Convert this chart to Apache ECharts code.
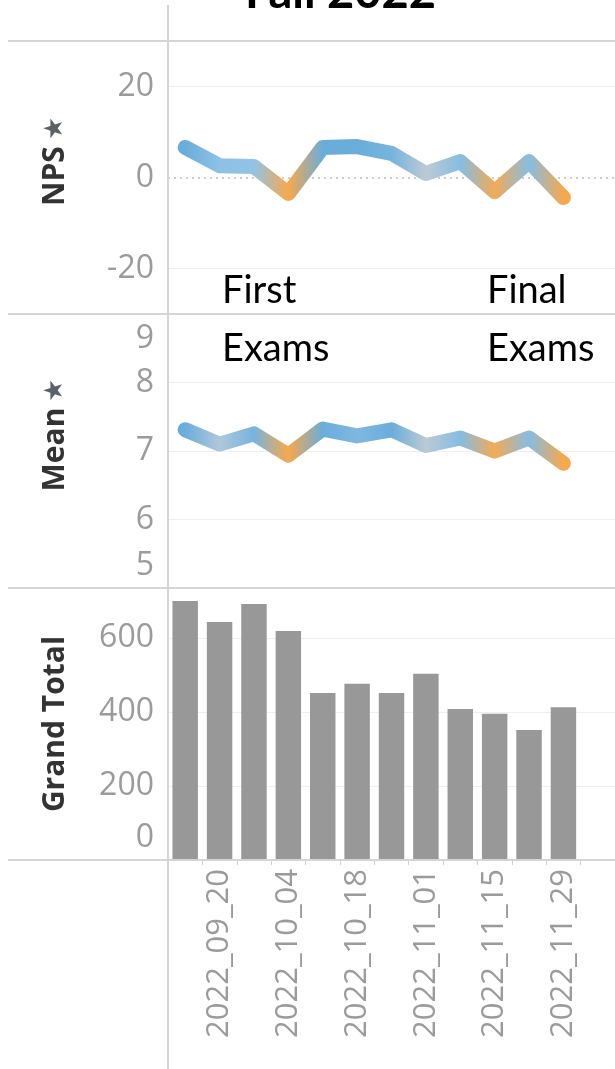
<!DOCTYPE html>
<html>
<head>
<meta charset="utf-8">
<script src="https://cdn.jsdelivr.net/npm/echarts@6/dist/echarts.min.js"></script>
<style>
html, body { margin: 0; padding: 0; background: #fff; }
#main { width: 615px; height: 1069px; }
</style>
</head>
<body>
<div id="main"></div>
<script>
// weekly survey data, Fall 2022
var weeks = ['2022_09_13', '2022_09_20', '2022_09_27', '2022_10_04', '2022_10_11', '2022_10_18',
             '2022_10_25', '2022_11_01', '2022_11_08', '2022_11_15', '2022_11_22', '2022_11_29'];
var npsValues = [6.6, 2.6, 2.4, -3.5, 6.6, 6.8, 5.3, 0.9, 3.5, -3.1, 3.5, -4.4];
var meanValues = [7.31, 7.10, 7.25, 6.94, 7.32, 7.22, 7.31, 7.08, 7.19, 7.00, 7.19, 6.82];
var totalValues = [700, 643, 692, 619, 451, 476, 451, 503, 408, 395, 351, 413];

var npsTicks = [-20, 0, 20];
var meanTicks = [5, 6, 7, 8, 9];
var totalTicks = [0, 200, 400, 600];

(function () {
    var myChart = echarts.init(document.getElementById('main'));

    var labelColor = '#9b9b9b';
    var gridColor = '#efefef';
    var borderColor = '#d5d5d5';
    var none = 'rgba(0,0,0,0)';
    var font = 'Open Sans';
    var plotWidth = 458;
    var lineWidth = 15;

    // orange (low) -> grey -> blue (high), like tableau's diverging palette
    var npsScale = [[-3.5, '#f8a84c'], [-1.2, '#dab68e'], [0.9, '#bccad4'], [2.5, '#8fc2e6'], [6.6, '#6aaddb']];
    var meanScale = [[6.96, '#f8a84c'], [7.01, '#f3ab58'], [7.08, '#bccad4'], [7.15, '#8fc2e6'], [7.3, '#6aaddb']];

    function hex(c) { return [parseInt(c.substr(1, 2), 16), parseInt(c.substr(3, 2), 16), parseInt(c.substr(5, 2), 16)]; }
    function colorAt(v, scale) {
        if (v <= scale[0][0]) return scale[0][1];
        for (var i = 1; i < scale.length; i++) {
            if (v <= scale[i][0]) {
                var t = (v - scale[i - 1][0]) / (scale[i][0] - scale[i - 1][0]);
                var a = hex(scale[i - 1][1]), b = hex(scale[i][1]);
                return 'rgb(' + a.map(function (x, k) { return Math.round(x + (b[k] - x) * t); }).join(',') + ')';
            }
        }
        return scale[scale.length - 1][1];
    }
    // gradient along the line, one stop per point (bounding box includes the stroke width)
    function lineGradient(values, scale) {
        var step = plotWidth / (weeks.length + 1);
        var total = lineWidth + (values.length - 1) * step;
        var stops = values.map(function (v, i) {
            return { offset: (lineWidth / 2 + i * step) / total, color: colorAt(v, scale) };
        });
        return new echarts.graphic.LinearGradient(0, 0, 1, 0, stops);
    }

    // split line colours per tick (only the labelled ones get a faint line)
    function splitColors(min, max, step, shown, skip) {
        var c = [];
        for (var v = min; v <= max + 1e-9; v += step) {
            c.push(shown.indexOf(v) >= 0 && skip.indexOf(v) < 0 ? gridColor : none);
        }
        return c;
    }

    var nameRich = {
        t: { fontSize: 30, fontWeight: 'bold', color: '#333', fontFamily: font },
        p: { fontSize: 26, color: '#5b6169', padding: [0, 0, 0, 6] },
        sp: { width: 32 }
    };
    var tickRich = {
        hi: { fontSize: 32, color: labelColor, fontFamily: font, padding: [50, 0, 0, 0] },
        lo: { fontSize: 32, color: labelColor, fontFamily: font, padding: [0, 0, 44, 0] }
    };

    function xAxis(i, showLabels) {
        return {
            gridIndex: i,
            type: 'category',
            data: weeks,
            max: weeks.length,
            axisLine: { show: false },
            axisTick: showLabels ? { show: true, interval: 0, length: 5, lineStyle: { color: '#cfcfcf' } } : { show: false },
            axisLabel: showLabels ? {
                rotate: 90,
                margin: 9,
                fontSize: 31,
                color: labelColor,
                fontFamily: font,
                interval: function (index) { return index % 2 === 1; }
            } : { show: false }
        };
    }

    function yAxis(i, min, max, step, name, pin, formatter, colors) {
        return {
            gridIndex: i,
            type: 'value',
            min: min,
            max: max,
            interval: step,
            axisLine: { show: false },
            axisTick: { show: false },
            axisLabel: { margin: 14, fontSize: 32, color: labelColor, fontFamily: font, formatter: formatter, rich: tickRich },
            splitLine: { lineStyle: { color: colors, width: 1 } },
            name: pin ? '{sp|}{t|' + name + '}{p|★}' : '{t|' + name + '}',
            nameLocation: 'middle',
            nameGap: 98,
            nameRotate: 90,
            nameTextStyle: { rich: nameRich }
        };
    }

    var option = {
        backgroundColor: '#fff',
        animation: false,
        grid: [
            { left: 168, top: 41, width: plotWidth, height: 273 },
            { left: 168, top: 314, width: plotWidth, height: 274 },
            { left: 168, top: 588, width: plotWidth, height: 272 }
        ],
        xAxis: [xAxis(0, false), xAxis(1, false), xAxis(2, true)],
        yAxis: [
            yAxis(0, -30, 30, 10, 'NPS', true, function (v) {
                return npsTicks.indexOf(v) >= 0 ? String(v) : '';
            }, splitColors(-30, 30, 10, npsTicks, [0])),
            yAxis(1, 5, 9, 1, 'Mean', true, function (v) {
                if (v === 9) return '{hi|9}';
                if (v === 5) return '{lo|5}';
                return meanTicks.indexOf(v) >= 0 ? String(v) : '';
            }, splitColors(5, 9, 1, meanTicks, [5, 9])),
            yAxis(2, 0, 735, 200, 'Grand Total', false, function (v) {
                if (v === 0) return '{lo|0}';
                return totalTicks.indexOf(v) >= 0 ? String(v) : '';
            }, splitColors(0, 800, 200, totalTicks, [0]))
        ],
        series: [
            {
                name: 'NPS',
                type: 'line',
                xAxisIndex: 0,
                yAxisIndex: 0,
                data: npsValues,
                symbol: 'none',
                z: 3,
                lineStyle: { width: lineWidth, cap: 'round', join: 'round', color: lineGradient(npsValues, npsScale) },
                markLine: {
                    silent: true,
                    symbol: 'none',
                    z: 1,
                    label: { show: false },
                    lineStyle: { color: '#bdbdbd', type: [2, 4], width: 1.5 },
                    data: [{ yAxis: 0 }]
                }
            },
            {
                name: 'Mean',
                type: 'line',
                xAxisIndex: 1,
                yAxisIndex: 1,
                data: meanValues,
                symbol: 'none',
                lineStyle: { width: lineWidth, cap: 'round', join: 'round', color: lineGradient(meanValues, meanScale) }
            },
            {
                name: 'Grand Total',
                type: 'bar',
                xAxisIndex: 2,
                yAxisIndex: 2,
                data: totalValues,
                barWidth: '74%',
                itemStyle: { color: '#989898' }
            }
        ],
        graphic: [
            // title, cut off at the top like the original screenshot
            {
                type: 'text', x: 245, y: -31, z: 20,
                style: { text: 'Fall 2022', fontSize: 47, fontWeight: 'bold', fontFamily: 'Lato', fill: '#000', verticalAlign: 'top' }
            },
            { type: 'line', shape: { x1: 8, y1: 41, x2: 615, y2: 41 }, style: { stroke: borderColor, lineWidth: 2 }, z: 10 },
            { type: 'line', shape: { x1: 8, y1: 314, x2: 615, y2: 314 }, style: { stroke: borderColor, lineWidth: 2 }, z: 10 },
            { type: 'line', shape: { x1: 8, y1: 588, x2: 615, y2: 588 }, style: { stroke: borderColor, lineWidth: 2 }, z: 10 },
            { type: 'line', shape: { x1: 8, y1: 860, x2: 615, y2: 860 }, style: { stroke: borderColor, lineWidth: 2 }, z: 10 },
            { type: 'line', shape: { x1: 168, y1: 5, x2: 168, y2: 1069 }, style: { stroke: borderColor, lineWidth: 2 }, z: 10 },
            {
                type: 'text', left: 222, top: 262, z: 20,
                style: { text: 'First\nExams', fontSize: 38, lineHeight: 58, fontFamily: 'Lato', fill: '#000' }
            },
            {
                type: 'text', left: 487, top: 262, z: 20,
                style: { text: 'Final\nExams', fontSize: 38, lineHeight: 58, fontFamily: 'Lato', fill: '#000' }
            }
        ]
    };

    myChart.setOption(option);
})();
</script>
</body>
</html>
